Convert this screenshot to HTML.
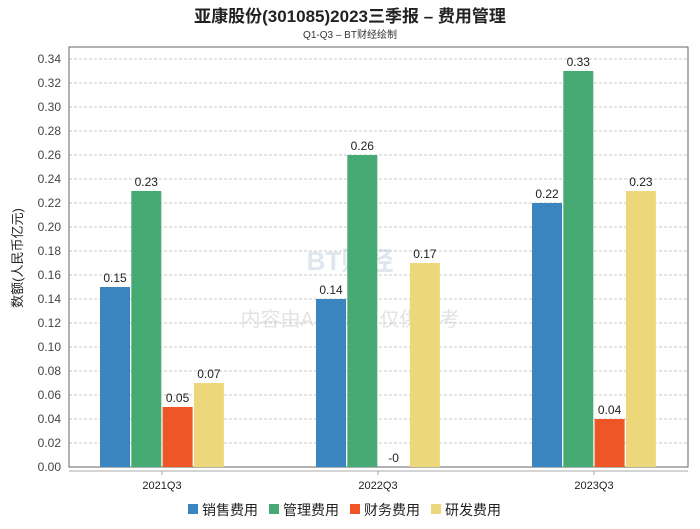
<!DOCTYPE html>
<html><head><meta charset="utf-8"><style>
body{margin:0;background:#fff;width:700px;height:524px;overflow:hidden;font-family:"Liberation Sans","Noto Sans CJK SC",sans-serif}
</style></head><body>
<svg id="c" width="700" height="524" style="font-family:'Liberation Sans','Noto Sans CJK SC',sans-serif">
<text x="350" y="22" text-anchor="middle" font-size="17" font-weight="bold" fill="#222">亚康股份(301085)2023三季报 – 费用管理</text>
<text x="350" y="38" text-anchor="middle" font-size="10" fill="#333">Q1-Q3 – BT财经绘制</text>
<text x="350" y="270" text-anchor="middle" font-size="26" font-weight="bold" fill="#dfe6ee">BT财经</text>
<text x="350" y="326" text-anchor="middle" font-size="20" fill="#e3e3e3">内容由AI生成，仅供参考</text>
<text transform="translate(22,258) rotate(-90)" text-anchor="middle" font-size="13" fill="#222">数额(人民币亿元)</text>
<g id="grid"></g><g id="bars"></g><g id="labels"></g>
<g id="legend"></g>
</svg>
<script>
const categories=["2021Q3","2022Q3","2023Q3"];
const seriesNames=["销售费用","管理费用","财务费用","研发费用"];
const colors=["#3a84c0","#45aa74","#ee5527","#ecd77a"];
const sales=[0.15,0.14,0.22];
const admin=[0.23,0.26,0.33];
const finance=[0.05,-0.001,0.04];
const rnd=[0.07,0.17,0.23];
const finLabels=["0.05","-0","0.04"];
const yTicks=[0,0.02,0.04,0.06,0.08,0.10,0.12,0.14,0.16,0.18,0.20,0.22,0.24,0.26,0.28,0.30,0.32,0.34];
const ns="http://www.w3.org/2000/svg";
const L=69,R=688,T=47,B=467,yMax=0.35;
const y=v=>B-(v/yMax)*(B-T);
const xc=i=>162+216*i;
function mk(t,a,p){const e=document.createElementNS(ns,t);for(const k in a)e.setAttribute(k,a[k]);document.getElementById(p).appendChild(e);return e;}
yTicks.forEach(v=>{
 const l=mk('line',{x1:L,x2:R,y1:y(v),y2:y(v),stroke:'#c8c8c8','stroke-dasharray':'3,2'},'grid');
 
 
 const t=mk('text',{x:L-8,y:y(v)+4,'text-anchor':'end','font-size':12,fill:'#444'},'grid');t.textContent=v.toFixed(2);
 
 
});
const ax=mk('rect',{x:L,y:T,width:R-L,height:B-T,fill:'none',stroke:'#666'},'grid');


const xl=mk('line',{x1:L,x2:R,y1:B+4,y2:B+4,stroke:'#aaa'},'grid');


const all=[sales,admin,finance,rnd];
categories.forEach((c,i)=>{
 const tk=mk('line',{x1:xc(i),x2:xc(i),y1:B+4,y2:B+8,stroke:'#aaa'},'grid');
 
 
 const t=mk('text',{x:xc(i),y:B+22,'text-anchor':'middle','font-size':11,fill:'#222'},'labels');t.textContent=c;
 
 
 all.forEach((s,j)=>{
  const v=s[i],x0=xc(i)-62+j*31.3;
  if(v>0){const r=mk('rect',{x:x0,y:y(v),width:30,height:B-y(v),fill:colors[j]},'bars');
  
  }
  const lt=mk('text',{x:x0+15,y:y(Math.max(v,0))-5,'text-anchor':'middle','font-size':12,fill:'#222'},'labels');
  lt.textContent=j===2?finLabels[i]:v.toFixed(2);
  
  
 });
});
const lx=[188,269,350,431];
seriesNames.forEach((n,j)=>{
 const r=mk('rect',{x:lx[j],y:504,width:10,height:10,fill:colors[j]},'legend');
 
 
 const t=mk('text',{x:lx[j]+14,y:515,'font-size':14,fill:'#222'},'legend');t.textContent=n;
 
 
});
</script>
</body></html>
